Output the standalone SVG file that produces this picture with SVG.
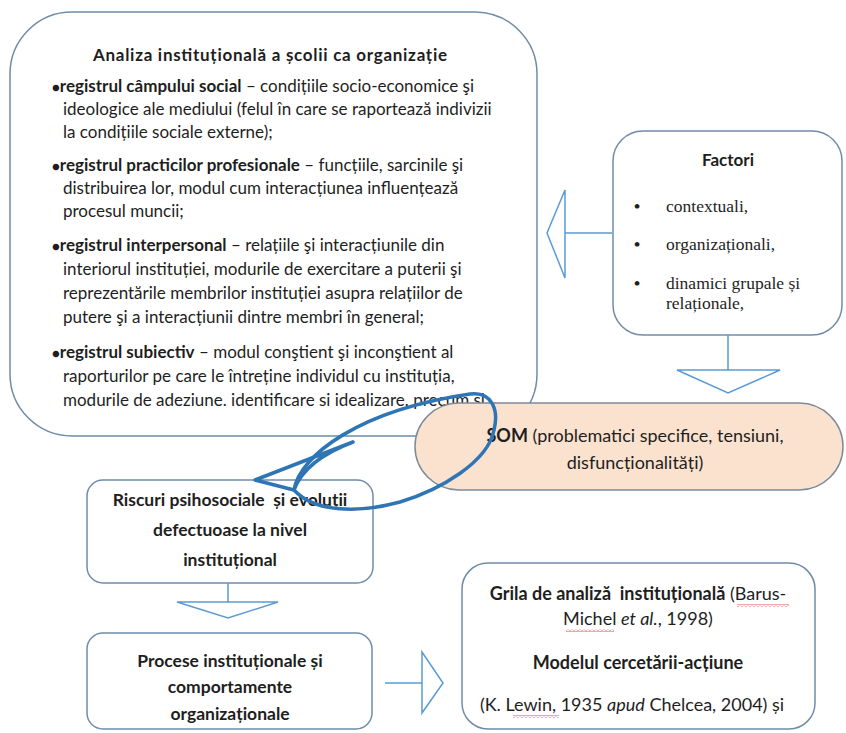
<svg xmlns="http://www.w3.org/2000/svg" width="846" height="733" viewBox="0 0 846 733">
  <defs>
    <style>
      .box { fill: #ffffff; stroke: #6f8caa; stroke-width: 1.5; }
      .som { fill: #fbe2cf; stroke: #7d8b99; stroke-width: 1.5; }
      .txt { font-family: Lato, "Open Sans", sans-serif; font-size: 17px; fill: #1e1e1e; }
      .mid { font-size: 17.5px; }
      .big { font-size: 18px; }
      .b { font-weight: bold; }
      .i { font-style: italic; }
      .dot { font-size: 13px; }
      .serif { font-family: "Liberation Serif", serif; font-size: 17.5px; fill: #1e1e1e; }
      .flow { fill: none; stroke: #5b9bd5; stroke-width: 1.5; stroke-linejoin: miter; }
      .loop { fill: none; stroke: #2e75b6; stroke-width: 3.5; stroke-linejoin: round; stroke-linecap: round; }
    </style>
    <pattern id="squiggle" patternUnits="userSpaceOnUse" width="4" height="3">
      <path d="M0 2.5 L2 0.5 L4 2.5" fill="none" stroke="#e0201b" stroke-width="0.8"/>
    </pattern>
  </defs>

  <rect width="846" height="733" fill="#ffffff"/>

  <!-- Institutional analysis box -->
  <g id="analiza">
    <rect class="box" x="10" y="12" width="527" height="424" rx="62" ry="62"/>
    <text class="txt b" x="93" y="61" textLength="354" lengthAdjust="spacing">Analiza instituțională a școlii ca organizație</text>
    <text class="txt" x="52" y="92"><tspan class="b"><tspan class="dot">●</tspan>registrul câmpului social</tspan> – condițiile socio-economice şi</text>
    <text class="txt" x="63" y="115">ideologice ale mediului (felul în care se raportează indivizii</text>
    <text class="txt" x="63" y="138">la condițiile sociale externe);</text>
    <text class="txt" x="52" y="171"><tspan class="b"><tspan class="dot">●</tspan>registrul practicilor profesionale</tspan> – funcțiile, sarcinile şi</text>
    <text class="txt" x="63" y="194">distribuirea lor, modul cum interacțiunea influențează</text>
    <text class="txt" x="63" y="217">procesul muncii;</text>
    <text class="txt" x="52" y="251"><tspan class="b"><tspan class="dot">●</tspan>registrul interpersonal</tspan>  – relațiile şi interacțiunile din</text>
    <text class="txt" x="63" y="275">interiorul instituției, modurile de exercitare a puterii şi</text>
    <text class="txt" x="63" y="299">reprezentările membrilor instituției asupra relațiilor de</text>
    <text class="txt" x="63" y="323">putere şi a interacțiunii dintre membri în general;</text>
    <text class="txt" x="52" y="358"><tspan class="b"><tspan class="dot">●</tspan>registrul subiectiv</tspan> – modul conştient şi inconştient al</text>
    <text class="txt" x="63" y="382">raporturilor pe care le întreține individul  cu instituția,</text>
    <text class="txt" x="63" y="406">modurile de adeziune. identificare si idealizare. precum si</text>
  </g>

  <!-- Factors box -->
  <g id="factori">
    <rect class="box" x="613" y="131" width="229" height="204" rx="30" ry="30"/>
    <text class="txt b" x="728" y="166" text-anchor="middle">Factori</text>
    <text class="serif b" x="634" y="212">•</text>
    <text class="serif" x="666" y="212">contextuali,</text>
    <text class="serif b" x="634" y="250">•</text>
    <text class="serif" x="666" y="250">organizaționali,</text>
    <text class="serif b" x="634" y="289">•</text>
    <text class="serif" x="666" y="289">dinamici grupale și</text>
    <text class="serif" x="666" y="309">relaționale,</text>
  </g>

  <!-- SOM box -->
  <g id="som">
    <rect class="som" x="415" y="403" width="428" height="87" rx="44" ry="44"/>
    <text class="txt big" x="635" y="442" text-anchor="middle"><tspan class="b">SOM</tspan> (problematici specifice, tensiuni,</text>
    <text class="txt big" x="635" y="469" text-anchor="middle">disfuncționalități)</text>
  </g>

  <!-- Psychosocial risks box -->
  <g id="riscuri">
    <rect class="box" x="87" y="480" width="286" height="103" rx="16" ry="16"/>
    <text class="txt mid b" x="230" y="506" text-anchor="middle" xml:space="preserve">Riscuri psihosociale  și evoluții</text>
    <text class="txt mid b" x="230" y="536" text-anchor="middle">defectuoase la nivel</text>
    <text class="txt mid b" x="230" y="566" text-anchor="middle">instituțional</text>
  </g>

  <!-- Institutional processes box -->
  <g id="procese">
    <rect class="box" x="87" y="633" width="285" height="96" rx="16" ry="16"/>
    <text class="txt mid b" x="230" y="667" text-anchor="middle">Procese instituționale și</text>
    <text class="txt mid b" x="230" y="693" text-anchor="middle">comportamente</text>
    <text class="txt mid b" x="230" y="720" text-anchor="middle">organizaționale</text>
  </g>

  <!-- Analysis grid box -->
  <g id="grila">
    <rect class="box" x="462" y="563" width="353" height="166" rx="26" ry="26"/>
    <text class="txt big" x="638" y="600" text-anchor="middle" xml:space="preserve"><tspan class="b">Grila de analiză  instituțională</tspan> (Barus-</text>
    <text class="txt big" x="638" y="625" text-anchor="middle">Michel <tspan class="i">et al.</tspan>, 1998)</text>
    <text class="txt big b" x="638" y="669" text-anchor="middle">Modelul cercetării-acțiune</text>
    <text class="txt big" x="632" y="711" text-anchor="middle">(K. Lewin, 1935 <tspan class="i">apud</tspan> Chelcea, 2004) și</text>
    <rect x="737" y="604" width="52" height="3" fill="url(#squiggle)"/>
    <rect x="566" y="629" width="48" height="3" fill="url(#squiggle)"/>
    <rect x="513" y="715" width="46" height="3" fill="url(#squiggle)"/>
  </g>

  <!-- Connectors -->
  <g id="connectors">
    <!-- Factori -> Analiza -->
    <path class="flow" d="M612 233 H565 M565 190 V278 L547 233 Z"/>
    <!-- Factori -> SOM -->
    <path class="flow" d="M728 335 V370 M677 370 H780 L728 393 Z"/>
    <!-- Riscuri -> Procese -->
    <path class="flow" d="M228 583 V602 M177 602 H278 L228 618 Z"/>
    <!-- Procese -> Grila -->
    <path class="flow" d="M385 683 H422 M422 652 V713 L443 683 Z"/>
    <!-- SOM -> Riscuri (curved loop arrow) -->
    <path class="loop" d="M294 490 C300 455 360 410 470 394 C492 391 499 410 494 430 C488 462 440 490 400 502 C360 513 315 513 294 490"/>
    <path class="loop" d="M294 490 L255 480 L353 442 Q305 460 294 490"/>
  </g>
</svg>
